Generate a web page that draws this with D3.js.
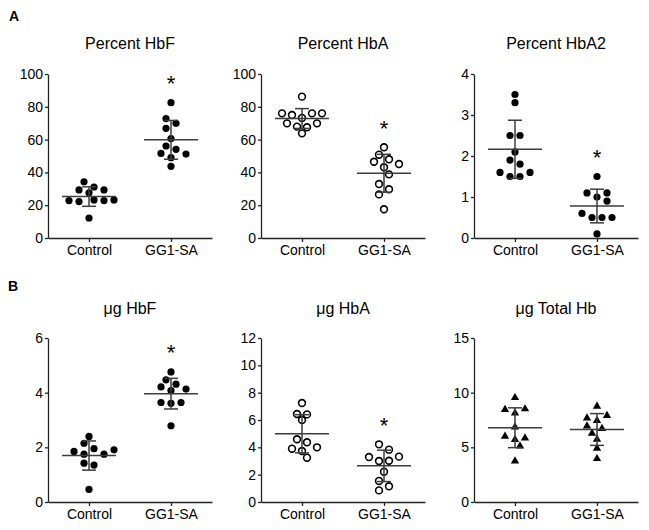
<!DOCTYPE html>
<html><head><meta charset="utf-8">
<script src="https://cdn.jsdelivr.net/npm/d3@7"></script>
<style>
body{margin:0;background:#fff}
text{font-family:Arial,"Liberation Sans",sans-serif;fill:#000}
</style>
</head><body>
<svg id="chart" width="649" height="530"></svg>
<script>
// ---------------- data ----------------
const groups = ["Control", "GG1-SA"];
const panelLetters = ["A", "B"];
const titles = ["Percent HbF", "Percent HbA", "Percent HbA2", "μg HbF", "μg HbA", "μg Total Hb"];
const yMaxes = [100, 100, 4, 6, 12, 15];
const yTicks = [
  [0, 20, 40, 60, 80, 100],
  [0, 20, 40, 60, 80, 100],
  [0, 1, 2, 3, 4],
  [0, 2, 4, 6],
  [0, 2, 4, 6, 8, 10, 12],
  [0, 5, 10, 15]
];
const markerTypes = ["dot", "circle", "dot", "dot", "circle", "triangle"];
const significant = [true, true, true, true, true, false];

const pctHbF_Control = [34.3, 29.3, 27.6, 29.3, 31.1, 22.8, 22.2, 23.2, 22.8, 23.2, 12.2];
const pctHbF_GG1SA   = [82.5, 72.8, 69.9, 66.9, 60.6, 56.1, 51.6, 49.0, 51.2, 54.1, 43.7];
const pctHbA_Control = [86.2, 76.0, 75.0, 73.2, 76.0, 76.0, 69.9, 67.9, 67.5, 69.9, 63.8];
const pctHbA_GG1SA   = [55.3, 50.8, 46.5, 43.1, 45.1, 48.0, 38.8, 32.9, 29.7, 26.6, 17.5];
const pctHbA2_Control = [3.3, 3.5, 2.5, 2.5, 2.1, 1.9, 1.8, 1.6, 1.5, 1.5, 1.6];
const pctHbA2_GG1SA   = [1.5, 1.1, 0.9, 1.0, 1.1, 0.6, 0.5, 0.5, 0.5, 0.1];
const ugHbF_Control = [2.40, 2.15, 1.95, 1.85, 1.75, 1.75, 1.91, 1.42, 1.35, 0.46];
const ugHbF_GG1SA   = [4.76, 4.47, 4.31, 4.21, 4.08, 4.13, 3.64, 3.61, 3.64, 2.79];
const ugHbA_Control = [7.24, 6.44, 6.00, 6.41, 4.59, 4.37, 3.90, 3.73, 4.00, 3.24];
const ugHbA_GG1SA   = [4.22, 3.83, 3.29, 3.00, 3.02, 3.32, 2.22, 1.54, 1.15, 0.85];
const ugTotal_Control = [9.54, 8.45, 8.14, 8.51, 6.86, 6.00, 5.70, 5.85, 5.12, 3.75];
const ugTotal_GG1SA   = [8.75, 7.68, 7.44, 7.90, 6.95, 6.71, 6.28, 5.73, 4.91, 3.96];

const panelData = [
  [pctHbF_Control, pctHbF_GG1SA],
  [pctHbA_Control, pctHbA_GG1SA],
  [pctHbA2_Control, pctHbA2_GG1SA],
  [ugHbF_Control, ugHbF_GG1SA],
  [ugHbA_Control, ugHbA_GG1SA],
  [ugTotal_Control, ugTotal_GG1SA]
];

// ---------------- layout ----------------
const svg = d3.select("#chart");
const plotW = 164, plotH = 164;
const colX = [48, 261, 474];
const rowTop = [74, 338];
const axisColor = "#222";
const statColor = "#3c3c3c";

// row-based scatter layout (Prism-like): points close in y share a row, spaced evenly,
// each point then nudged to the nearest free slot
function swarm(values, y) {
  const tol = 6, D = 7.5, step = 10;
  const order = values.map((v, i) => i).sort((a, b) => values[b] - values[a]);
  const rows = [];
  order.forEach(i => {
    const r = rows[rows.length - 1];
    if (r && y(values[i]) - y(values[r[0]]) <= tol) r.push(i);
    else rows.push([i]);
  });
  const placed = [];
  const out = new Array(values.length);
  rows.forEach(r => {
    const idx = r.slice().sort((a, b) => a - b);
    const n = idx.length;
    idx.forEach((i, k) => {
      const base = (k - (n - 1) / 2) * step;
      const py = y(values[i]);
      const dir = base < 0 ? -1 : 1;
      const shifts = [0];
      for (let j = 1; j < 12; j++) shifts.push(dir * 5 * j, -dir * 5 * j);
      for (const s of shifts) {
        const px = base + s;
        if (placed.every(p => Math.hypot(p.x - px, p.y - py) >= D)) {
          out[i] = px; placed.push({x: px, y: py}); break;
        }
      }
    });
  });
  return out;
}

panelData.forEach((series, p) => {
  const row = Math.floor(p / 3), col = p % 3;
  const g = svg.append("g").attr("transform", `translate(${colX[col]},${rowTop[row]})`);
  const x = d3.scalePoint().domain(groups).range([0, plotW]).padding(0.5);
  const y = d3.scaleLinear().domain([0, yMaxes[p]]).range([plotH, 0]);

  // title
  g.append("text").attr("x", plotW / 2).attr("y", row === 0 ? -25 : -24)
    .attr("text-anchor", "middle").style("font-size", "16px").text(titles[p]);

  // axes
  const ya = g.append("g").call(d3.axisLeft(y).tickValues(yTicks[p]).tickFormat(d3.format("d"))
    .tickSize(3).tickPadding(2).tickSizeOuter(0));
  ya.selectAll("text").style("font-size", "14px");
  const xa = g.append("g").attr("transform", `translate(0,${plotH})`)
    .call(d3.axisBottom(x).tickSize(4).tickPadding(3.5).tickSizeOuter(0));
  xa.selectAll("text").style("font-size", "14px");
  [ya, xa].forEach(a => {
    a.select(".domain").attr("stroke", axisColor).attr("stroke-width", 1.3);
    a.selectAll(".tick line").attr("stroke", axisColor).attr("stroke-width", 1.3);
  });

  series.forEach((vals, gi) => {
    const cx = x(groups[gi]);
    const offs = swarm(vals, y);
    const type = markerTypes[p];
    const pts = g.append("g");
    vals.forEach((v, i) => {
      const px = cx + offs[i], py = y(v);
      if (type === "dot") {
        pts.append("circle").attr("cx", px).attr("cy", py).attr("r", 3.6).attr("fill", "#000");
      } else if (type === "circle") {
        pts.append("circle").attr("cx", px).attr("cy", py).attr("r", 3.4)
          .attr("fill", "#fff").attr("stroke", "#000").attr("stroke-width", 1.6);
      } else {
        pts.append("path").attr("d", d3.symbol(d3.symbolTriangle, 30)())
          .attr("transform", `translate(${px},${py})`).attr("fill", "#000");
      }
    });
    // mean +/- SD
    const m = d3.mean(vals), sd = d3.deviation(vals);
    const st = g.append("g").attr("stroke", statColor).attr("stroke-width", 1.5).attr("fill", "none");
    st.append("line").attr("x1", cx - 27).attr("x2", cx + 27).attr("y1", y(m)).attr("y2", y(m));
    st.append("line").attr("x1", cx).attr("x2", cx).attr("y1", y(m + sd)).attr("y2", y(m - sd));
    st.append("line").attr("x1", cx - 7).attr("x2", cx + 7).attr("y1", y(m + sd)).attr("y2", y(m + sd));
    st.append("line").attr("x1", cx - 7).attr("x2", cx + 7).attr("y1", y(m - sd)).attr("y2", y(m - sd));

    if (gi === 1 && significant[p]) {
      const top = y(d3.max(vals)) - 24;
      g.append("text").attr("x", cx).attr("y", top + 12.5).attr("text-anchor", "middle")
        .style("font-size", "22px").text("*");
    }
  });
});

// panel letters
svg.append("text").attr("x", 9).attr("y", 21).style("font-size", "14px").style("font-weight", "bold").text(panelLetters[0]);
svg.append("text").attr("x", 8).attr("y", 291).style("font-size", "14px").style("font-weight", "bold").text(panelLetters[1]);
</script>
</body></html>
